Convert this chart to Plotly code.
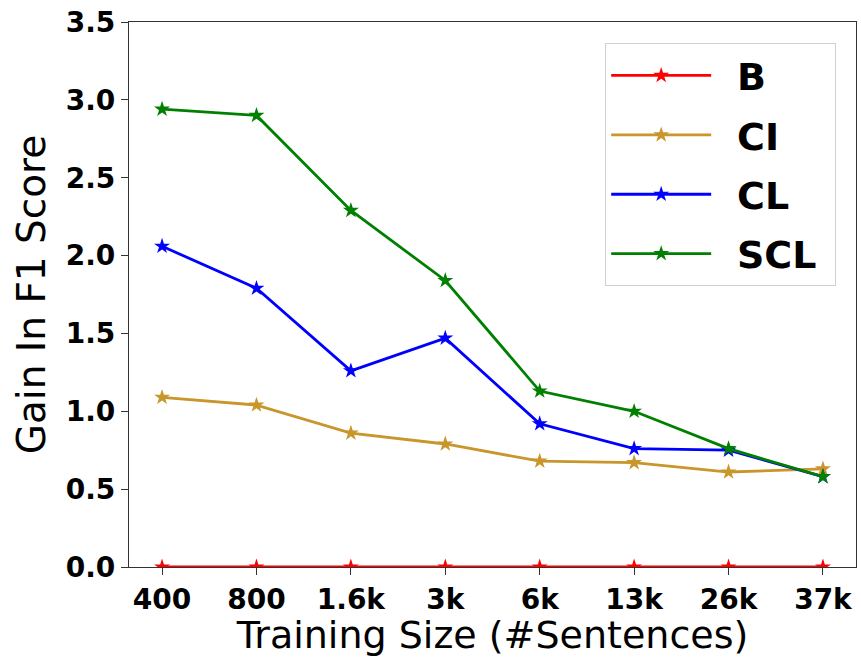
import plotly.graph_objects as go

categories = ["400", "800", "1.6k", "3k", "6k", "13k", "26k", "37k"]
y_ticks = [0.0, 0.5, 1.0, 1.5, 2.0, 2.5, 3.0, 3.5]
B = [0, 0, 0, 0, 0, 0, 0, 0]
CI = [1.09, 1.04, 0.86, 0.79, 0.68, 0.67, 0.61, 0.63]
CL = [2.06, 1.79, 1.26, 1.47, 0.92, 0.76, 0.75, 0.58]
SCL = [2.94, 2.90, 2.29, 1.84, 1.13, 1.00, 0.76, 0.58]

series = [("B", B, "#ff0000"), ("CI", CI, "#c8962a"), ("CL", CL, "#0000ff"), ("SCL", SCL, "#008000")]

fig = go.Figure()
for name, vals, col in series:
    fig.add_trace(go.Scatter(
        x=list(range(len(categories))), y=vals,
        name="\u00a0\u2009" + name + "\u00a0", mode="lines+markers",
        line=dict(color=col, width=2.8),
        marker=dict(symbol="star", size=12, color=col),
        legendgroup=name,
    ))

fig.update_layout(
    width=861, height=657,
    paper_bgcolor="white", plot_bgcolor="white",
    margin=dict(l=129, r=5, t=22, b=90, autoexpand=False),
    font=dict(family="DejaVu Sans", color="black"),
    showlegend=True,
    legend=dict(
        x=0.655, y=0.961, xanchor="left", yanchor="top",
        font=dict(family="DejaVu Sans", size=38, color="black", weight="bold"),
        bordercolor="#d0d0d0", borderwidth=1, bgcolor="white",
        tracegroupgap=7, itemwidth=100,
    ),
    xaxis=dict(
        tickmode="array", tickvals=list(range(len(categories))), ticktext=categories,
        range=[-0.35, 7.35], showgrid=False, zeroline=False, automargin=False,
        showline=True, linecolor="#333333", linewidth=1.2, mirror=True,
        ticks="outside", ticklen=7, tickcolor="#333333",
        tickfont=dict(family="DejaVu Sans", size=28, weight="bold"),
        title=dict(text="Training Size (#Sentences)", font=dict(size=38), standoff=5),
    ),
    yaxis=dict(
        range=[0, 3.5001], tickmode="array", tickvals=y_ticks,
        ticktext=[f"{v:.1f}" for v in y_ticks], automargin=False,
        showgrid=False, zeroline=False,
        showline=True, linecolor="#333333", linewidth=1.2, mirror=True,
        ticks="outside", ticklen=7, tickcolor="#333333",
        tickfont=dict(family="DejaVu Sans", size=28, weight="bold"),
        title=dict(text="Gain In F1 Score", font=dict(size=39), standoff=8),
    ),
)

fig.write_html("out.html", config={"displayModeBar": False},
               post_script="document.body.style.margin='0';")
